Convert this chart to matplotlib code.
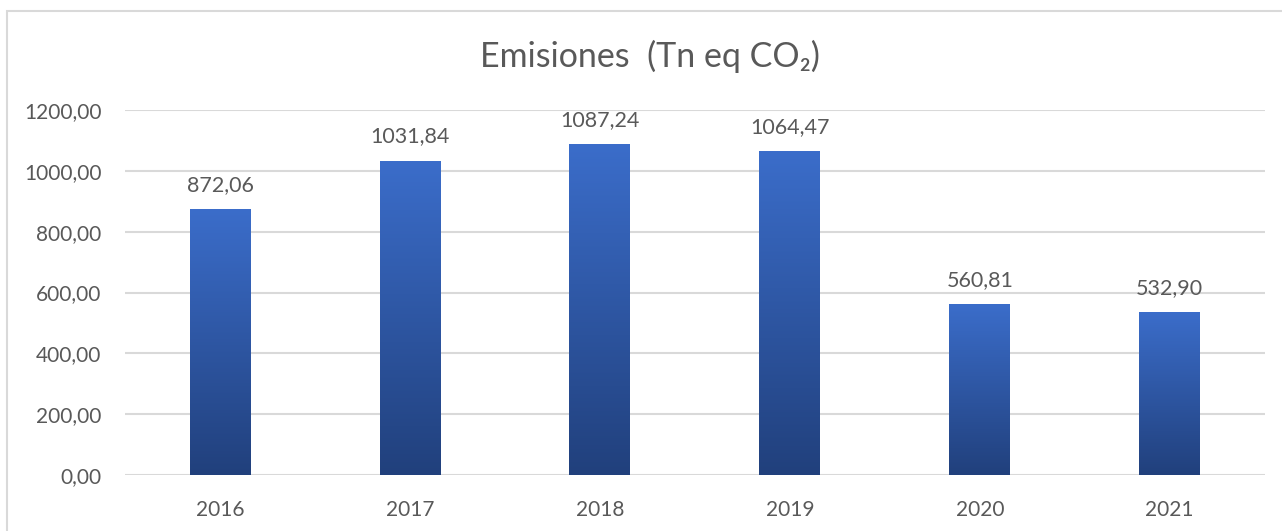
import numpy as np
import matplotlib.pyplot as plt
from matplotlib.colors import LinearSegmentedColormap
from matplotlib.patches import Rectangle

# Data
years = ["2016", "2017", "2018", "2019", "2020", "2021"]
emisiones = [872.06, 1031.84, 1087.24, 1064.47, 560.81, 532.90]
yticks = [0, 200, 400, 600, 800, 1000, 1200]


def fmt_es(v):
    return f"{v:.2f}".replace(".", ",")


plt.rcParams['font.family'] = ['Lato', 'DejaVu Sans']
text_color = '#595959'
grid_color = '#D9D9D9'

fig = plt.figure(figsize=(12.82, 5.31), dpi=100)
ax = fig.add_axes([0.0975, 0.1055, 0.889, 0.6873])

# outer chart border (top and left visible)
fig.patches.append(Rectangle((7 / 1282, -0.05), 1.1, 1 - 11 / 531 + 0.05,
                             transform=fig.transFigure, fill=False,
                             edgecolor=grid_color, linewidth=1.5))

x = np.arange(len(years))
bars = ax.bar(x, emisiones, width=0.32, color='none', zorder=3)

# vertical gradient inside each bar
cmap = LinearSegmentedColormap.from_list('blu', ['#21407C', '#3B6DCA'])
grad = np.linspace(0, 1, 256).reshape(-1, 1)
for b in bars:
    x0, y0 = b.get_x(), b.get_y()
    w, h = b.get_width(), b.get_height()
    ax.imshow(grad, cmap=cmap, origin='lower', aspect='auto',
              extent=[x0, x0 + w, y0, y0 + h], zorder=3)

for xi, v in zip(x, emisiones):
    ax.text(xi, v + 48, fmt_es(v), ha='center', va='bottom',
            fontsize=15.5, color=text_color)

ax.set_xlim(-0.5, len(years) - 0.5)
ax.set_ylim(0, 1200)
ax.set_xticks(x)
ax.set_xticklabels(years)
ax.set_yticks(yticks)
ax.set_yticklabels([fmt_es(t) for t in yticks])
ax.tick_params(axis='both', length=0, labelsize=15, colors=text_color)
ax.tick_params(axis='x', pad=18)
ax.tick_params(axis='y', pad=17)
ax.grid(axis='y', color=grid_color, linewidth=1.5, zorder=0)
ax.set_axisbelow(True)
for s in ax.spines.values():
    s.set_visible(False)

fig.text(0.507, 0.893, "Emisiones  (Tn eq CO₂)", ha='center', va='center',
         fontsize=24.5, color=text_color)

fig.savefig('out.png', dpi=100)
